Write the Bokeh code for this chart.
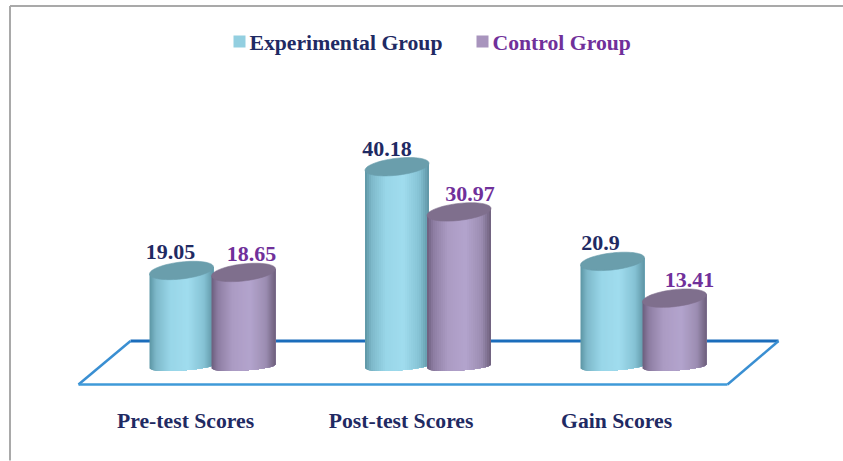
import numpy as np
from bokeh.core.properties import value
from bokeh.embed import file_html
from bokeh.models import ColumnDataSource, FixedTicker, Range1d
from bokeh.plotting import figure
from bokeh.resources import INLINE

categories = ["Pre-test Scores", "Post-test Scores", "Gain Scores"]
series_names = ["Experimental Group", "Control Group"]
experimental = [19.05, 40.18, 20.9]
control = [18.65, 30.97, 13.41]
value_labels = [["19.05", "40.18", "20.9"], ["18.65", "30.97", "13.41"]]

# layout in page pixels of the reference -> data coordinates
GROUP_PX, UNIT_PX = 215.5, 4.91
ZERO_X, ZERO_Y = 212.0, 363.5
W, H = 843, 461
BOTTOM_FRAME = 460


def X(px):
    return (np.asarray(px, float) - ZERO_X) / GROUP_PX


def Y(py):
    return (ZERO_Y - np.asarray(py, float)) / UNIT_PX


p = figure(width=W, height=H, output_backend="svg", toolbar_location=None,
           x_range=Range1d(float(X(0)), float(X(W))),
           y_range=Range1d(float(Y(BOTTOM_FRAME)), float(Y(0))),
           y_axis_location=None, min_border=0, min_border_bottom=H - BOTTOM_FRAME,
           outline_line_color=None, background_fill_color="white")
p.grid.visible = False

ax = p.xaxis[0]
ticks = [i - 0.125 for i in range(len(categories))]
ax.ticker = FixedTicker(ticks=ticks)
ax.major_label_overrides = {t: c for t, c in zip(ticks, categories)}
ax.axis_line_color = None
ax.major_tick_line_color = None
ax.minor_tick_line_color = None
ax.major_label_standoff = -58
ax.major_label_text_font = "Liberation Serif"
ax.major_label_text_font_style = "bold"
ax.major_label_text_font_size = "21.7px"
ax.major_label_text_color = "#1f2a63"

# picture frame
p.line(X([9.5, 9.5]), Y([461, 5.5]), line_color="#a9a9a9", line_width=2)
p.line(X([9.5, 843]), Y([5.5, 5.5]), line_color="#a9a9a9", line_width=2)

# floor
p.line(X([130, 778]), Y([340.5, 340.5]), line_color="#1b6dbb", line_width=3)
p.line(X([78, 130]), Y([384, 340.5]), line_color="#3a8fd2", line_width=2.5)
p.line(X([727, 778]), Y([384, 340.5]), line_color="#3a8fd2", line_width=2.5)
p.line(X([78, 727]), Y([384, 384]), line_color="#3f9ad8", line_width=2.5)

HALF_W = 32
OFFSET = [-31.0, 31.0]
BASE_PY = 366.0
STOPS_U = [-1.0, -0.8, -0.35, 0.2, 0.7, 1.0]
BODY = [["#5c94a3", "#7db8c9", "#98d6e8", "#a0dcee", "#85c2d4", "#5e94a4"],
        ["#6c5d7c", "#8d7da2", "#ab9bc3", "#b3a4cd", "#9c8db2", "#6d5f7b"]]
CAP = ["#6a9eac", "#7f6f8d"]
CAP_B, CAP_K = 8.5, 3.5
BASE_B, BASE_K = 4.0, 2.0
STRIPS = 32


def ramp(hexes, u):
    rgb = np.array([[int(h[i:i + 2], 16) for i in (1, 3, 5)] for h in hexes], float)
    return "#%02x%02x%02x" % tuple(int(round(np.interp(u, STOPS_U, rgb[:, k]))) for k in range(3))


def cylinder(cx_px, val, s):
    top_py = ZERO_Y - val * UNIT_PX
    edges = np.linspace(-1, 1, STRIPS + 1)
    xs, ys, cols = [], [], []
    for j in range(STRIPS):
        # each strip reaches the right edge, so the next one paints over it: no seams
        ua = edges[j:]
        low = BASE_PY + BASE_B * np.sqrt(np.clip(1 - ua ** 2, 0, 1)) - BASE_K * ua
        up = top_py - CAP_K * ua
        xs.append(X(np.r_[cx_px + HALF_W * ua, cx_px + HALF_W * ua[::-1]]))
        ys.append(Y(np.r_[low, up[::-1]]))
        cols.append(ramp(BODY[s], (edges[j] + edges[j + 1]) / 2))
    p.patches(xs, ys, fill_color=cols, line_color=None)
    t = np.linspace(0, 2 * np.pi, 73)
    p.patch(X(cx_px + HALF_W * np.cos(t)),
            Y(top_py + CAP_B * np.sin(t) - CAP_K * np.cos(t)),
            fill_color=CAP[s], line_color=CAP[s], line_width=0.6)


for i in range(len(categories)):
    for s, vals in enumerate([experimental, control]):
        cylinder(ZERO_X + i * GROUP_PX + OFFSET[s], vals[i], s)

# value labels
TEXT_COL = ["#1f2a63", "#70309a"]
LABEL_DX = [[-11, -10, -12], [8, 11, 15]]
for s, vals in enumerate([experimental, control]):
    src = ColumnDataSource(dict(
        x=[float(X(ZERO_X + i * GROUP_PX + OFFSET[s] + LABEL_DX[s][i])) for i in range(3)],
        y=vals, t=value_labels[s]))
    p.text("x", "y", text="t", source=src, text_font=value("Liberation Serif"),
           text_font_style="bold", text_font_size="22px", text_color=TEXT_COL[s],
           text_align="center", text_baseline="middle", y_offset=-18)

# legend
LEG_SW = [233, 476]
LEG_TX = [249, 492]
for s, name in enumerate(series_names):
    p.quad(left=[float(X(LEG_SW[s]))], right=[float(X(LEG_SW[s] + 12))],
           bottom=[float(Y(47))], top=[float(Y(35))],
           fill_color=["#93cfe0", "#a894bd"][s], line_color=None)
    p.text([float(X(LEG_TX[s]))], [float(Y(42))], text=[name],
           text_font=value("Liberation Serif"), text_font_style="bold",
           text_font_size="21.7px", text_color=TEXT_COL[s],
           text_align="left", text_baseline="middle")

open("out.html", "w").write(file_html(p, INLINE))
